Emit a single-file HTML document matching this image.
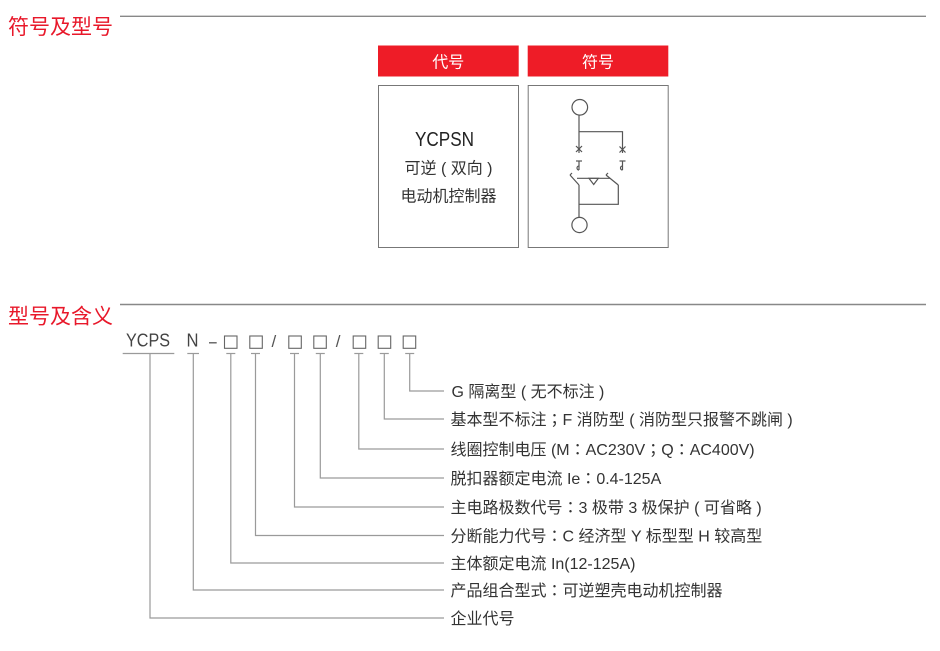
<!DOCTYPE html>
<html><head><meta charset="utf-8"><style>
html,body{margin:0;padding:0;background:#fff;}
svg{display:block;}
text{font-family:"Liberation Sans","Noto Sans CJK SC",sans-serif;}
.p{font-family:"Noto Sans CJK TC","Noto Sans CJK SC",sans-serif;}
</style></head><body>
<svg width="940" height="651" viewBox="0 0 940 651" xmlns="http://www.w3.org/2000/svg">
<rect width="940" height="651" fill="#fff"/>
<!-- Section 1 -->
<text x="8" y="34" font-size="21" fill="#e8182a">符号及型号</text>
<line x1="120" y1="16.3" x2="926" y2="16.3" stroke="#888" stroke-width="1.4"/>

<rect x="378" y="45.5" width="140.7" height="31" fill="#ee1c27"/>
<rect x="527.7" y="45.5" width="140.6" height="31" fill="#ee1c27"/>
<text x="448.3" y="67.5" font-size="16" fill="#fff" text-anchor="middle">代号</text>
<text x="598" y="67.5" font-size="16" fill="#fff" text-anchor="middle">符号</text>

<rect x="378.5" y="85.5" width="140" height="162" fill="none" stroke="#777" stroke-width="1"/>
<rect x="528.2" y="85.5" width="140" height="162" fill="none" stroke="#777" stroke-width="1"/>

<text x="415" y="146" font-size="20" fill="#222" textLength="59" lengthAdjust="spacingAndGlyphs">YCPSN</text>
<text x="448.5" y="173.5" font-size="16" fill="#333" text-anchor="middle">可逆 ( 双向 )</text>
<text x="448.5" y="201.5" font-size="16" fill="#333" text-anchor="middle">电动机控制器</text>

<!-- symbol -->
<g stroke="#555" stroke-width="1.2" fill="none">
<circle cx="579.8" cy="107.3" r="7.8"/>
<line x1="579" y1="115" x2="579" y2="153"/>
<polyline points="579,131.7 622.5,131.7 622.5,153"/>
<line x1="576" y1="146" x2="582" y2="152"/>
<line x1="582" y1="146" x2="576" y2="152"/>
<line x1="619.5" y1="146.5" x2="625.5" y2="152.5"/>
<line x1="625.5" y1="146.5" x2="619.5" y2="152.5"/>
<line x1="576" y1="161" x2="582" y2="161"/>
<line x1="579" y1="161" x2="579" y2="170"/>
<path d="M579 166 A2 2 0 1 0 579 170"/>
<line x1="619.5" y1="161" x2="625.5" y2="161"/>
<line x1="622.5" y1="161" x2="622.5" y2="170"/>
<path d="M622.5 166 A2 2 0 1 0 622.5 170"/>
<line x1="570" y1="175" x2="579" y2="185"/>
<line x1="570" y1="175" x2="572" y2="173"/>
<line x1="577" y1="178.3" x2="610" y2="178.3"/>
<polygon points="589,178.3 598.3,178.3 593.7,184.5"/>
<line x1="606" y1="175" x2="618.3" y2="185"/>
<line x1="606" y1="175" x2="608" y2="173"/>
<polyline points="618.3,185 618.3,204.3 579,204.3"/>
<line x1="579" y1="185" x2="579" y2="217.3"/>
<circle cx="579.5" cy="225" r="7.6"/>
</g>

<!-- Section 2 -->
<text x="8" y="323.5" font-size="21" fill="#e8182a">型号及含义</text>
<line x1="120" y1="304.5" x2="926" y2="304.5" stroke="#888" stroke-width="1.4"/>

<text x="126" y="346.7" font-size="18" fill="#444" textLength="44" lengthAdjust="spacingAndGlyphs">YCPS</text>
<text x="186.5" y="346.7" font-size="18" fill="#444" textLength="12" lengthAdjust="spacingAndGlyphs">N</text>
<line x1="209" y1="342.8" x2="216.7" y2="342.8" stroke="#555" stroke-width="1.3"/>
<text x="271.5" y="347" font-size="17" fill="#555">/</text>
<text x="335.8" y="347" font-size="17" fill="#555">/</text>
<g fill="none" stroke="#666" stroke-width="1.1">
<rect x="224.5" y="336" width="12.5" height="12.3"/>
<rect x="249.8" y="336" width="12.5" height="12.3"/>
<rect x="288.8" y="336" width="12.5" height="12.3"/>
<rect x="313.8" y="336" width="12.5" height="12.3"/>
<rect x="353.2" y="336" width="12.5" height="12.3"/>
<rect x="378.2" y="336" width="12.5" height="12.3"/>
<rect x="403.2" y="336" width="12.5" height="12.3"/>
</g>

<g fill="none" stroke="#9a9a9a" stroke-width="1.2">
<line x1="122.7" y1="353.5" x2="174.3" y2="353.5"/>
<line x1="187.3" y1="353.5" x2="199" y2="353.5"/>
<line x1="226.3" y1="353.5" x2="235.3" y2="353.5"/>
<line x1="251" y1="353.5" x2="260" y2="353.5"/>
<line x1="290" y1="353.5" x2="299" y2="353.5"/>
<line x1="315.8" y1="353.5" x2="324.8" y2="353.5"/>
<line x1="354.3" y1="353.5" x2="363.3" y2="353.5"/>
<line x1="379.8" y1="353.5" x2="388.8" y2="353.5"/>
<line x1="405.2" y1="353.5" x2="414.2" y2="353.5"/>

<polyline points="409.7,353.5 409.7,391 444,391"/>
<polyline points="384.3,353.5 384.3,419 444,419"/>
<polyline points="358.8,353.5 358.8,449 444,449"/>
<polyline points="320.3,353.5 320.3,478 444,478"/>
<polyline points="294.5,353.5 294.5,507 444,507"/>
<polyline points="255.5,353.5 255.5,535.5 444,535.5"/>
<polyline points="230.8,353.5 230.8,563 444,563"/>
<polyline points="193.3,353.5 193.3,590 444,590"/>
<polyline points="150,353.5 150,618 444,618"/>
</g>

<g font-size="16" fill="#333">
<text x="451.5" y="397">G 隔离型 ( 无不标注 )</text>
<text x="450.5" y="425">基本型不标注<tspan class="p">；</tspan>F 消防型 ( 消防型只报警不跳闸 )</text>
<text x="450.5" y="455">线圈控制电压 (M<tspan class="p">：</tspan>AC230V<tspan class="p">；</tspan>Q<tspan class="p">：</tspan>AC400V)</text>
<text x="450.5" y="484">脱扣器额定电流 Ie<tspan class="p">：</tspan>0.4-125A</text>
<text x="450.5" y="513">主电路极数代号<tspan class="p">：</tspan>3 极带 3 极保护 ( 可省略 )</text>
<text x="450.5" y="541.5">分断能力代号<tspan class="p">：</tspan>C 经济型 Y 标型型 H 较高型</text>
<text x="450.5" y="569">主体额定电流 In(12-125A)</text>
<text x="450.5" y="596">产品组合型式<tspan class="p">：</tspan>可逆塑壳电动机控制器</text>
<text x="450.5" y="624">企业代号</text>
</g>
</svg>
</body></html>
